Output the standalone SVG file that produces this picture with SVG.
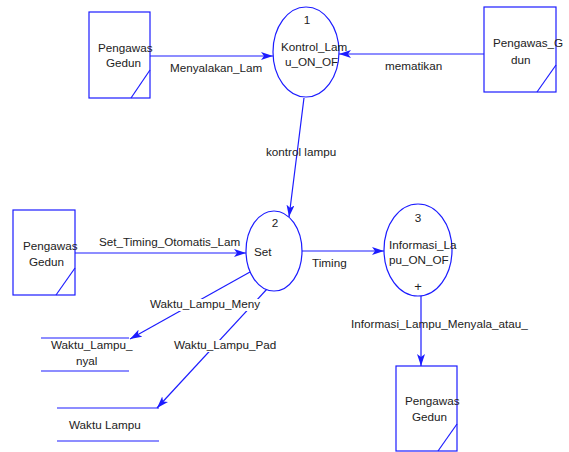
<svg xmlns="http://www.w3.org/2000/svg" width="569" height="452" viewBox="0 0 569 452">
<style>
.s{fill:none;stroke:#1c1cff;stroke-width:1.2}
.b{fill:#fff;stroke:#1c1cff;stroke-width:1.2}
.t{font-family:"Liberation Sans",Arial,sans-serif;font-size:11.7px;fill:#222}
.c{text-anchor:middle}
.w{fill:#fff;stroke:none}
</style>
<defs>
<marker id="ah" viewBox="0 0 12 8" refX="12" refY="4" markerWidth="12" markerHeight="8" markerUnits="userSpaceOnUse" orient="auto">
<path d="M0,0 L12,4 L0,8 L3,4 Z" fill="#1c1cff"/>
</marker>
</defs>
<rect width="569" height="452" fill="#fff"/>
<g id="connectors">
<line class="s" x1="150" y1="56" x2="273" y2="56" marker-end="url(#ah)"/>
<line class="s" x1="484" y1="54" x2="339" y2="54" marker-end="url(#ah)"/>
<line class="s" x1="304" y1="98" x2="289" y2="217" marker-end="url(#ah)"/>
<line class="s" x1="75" y1="253" x2="246" y2="253" marker-end="url(#ah)"/>
<line class="s" x1="302" y1="251" x2="384" y2="251" marker-end="url(#ah)"/>
<line class="s" x1="421" y1="296" x2="421" y2="366" marker-end="url(#ah)"/>
<line class="s" x1="250" y1="272" x2="130" y2="339" marker-end="url(#ah)"/>
<line class="s" x1="267" y1="289" x2="157" y2="408" marker-end="url(#ah)"/>
<rect class="w" x="150" y="299" width="114" height="12"/>
<rect class="w" x="174" y="340" width="106" height="12"/>
<text class="t" x="170" y="72">Menyalakan_Lam</text>
<text class="t" x="385" y="70">mematikan</text>
<text class="t" x="266" y="156">kontrol lampu</text>
<text class="t" x="99" y="246">Set_Timing_Otomatis_Lam</text>
<text class="t" x="312" y="267">Timing</text>
<text class="t" x="150" y="308">Waktu_Lampu_Meny</text>
<text class="t" x="174" y="349">Waktu_Lampu_Pad</text>
<text class="t" x="351" y="328">Informasi_Lampu_Menyala_atau_</text>
</g>
<g id="ext1">
<rect class="b" x="89" y="12" width="61" height="86"/>
<line class="s" x1="131" y1="98" x2="150" y2="70"/>
<text class="t" x="98" y="52">Pengawas</text>
<text class="t" x="106" y="67">Gedun</text>
</g>
<g id="ext2">
<rect class="b" x="484" y="7" width="72" height="85"/>
<line class="s" x1="537" y1="92" x2="556" y2="65"/>
<text class="t" x="493" y="47">Pengawas_G</text>
<text class="t" x="511" y="64">dun</text>
</g>
<g id="ext3">
<rect class="b" x="13" y="210" width="62" height="85"/>
<line class="s" x1="56" y1="295" x2="75" y2="268"/>
<text class="t" x="23" y="250">Pengawas</text>
<text class="t" x="29" y="266">Gedun</text>
</g>
<g id="ext4">
<rect class="b" x="396" y="366" width="61" height="85"/>
<line class="s" x1="438" y1="451" x2="457" y2="424"/>
<text class="t" x="405" y="405">Pengawas</text>
<text class="t" x="412" y="421">Gedun</text>
</g>
<g id="proc1">
<ellipse class="b" cx="306" cy="52" rx="33" ry="45"/>
<text class="t c" x="307" y="24">1</text>
<text class="t" x="281" y="51">Kontrol_Lam</text>
<text class="t" x="285" y="66">u_ON_OF</text>
</g>
<g id="proc2">
<ellipse class="b" cx="274" cy="251" rx="28" ry="40"/>
<text class="t c" x="275" y="227">2</text>
<text class="t" x="254" y="256">Set</text>
</g>
<g id="proc3">
<ellipse class="b" cx="418" cy="250" rx="34" ry="46"/>
<text class="t c" x="418" y="222">3</text>
<text class="t" x="389" y="249">Informasi_La</text>
<text class="t" x="389" y="264">pu_ON_OF</text>
<text class="t c" x="418" y="291" style="font-size:13px">+</text>
</g>
<g id="store1">
<line class="s" x1="41" y1="338" x2="129" y2="338"/>
<line class="s" x1="41" y1="371" x2="129" y2="371"/>
<text class="t" x="51" y="349">Waktu_Lampu_</text>
<text class="t" x="76" y="365">nyal</text>
</g>
<g id="store2">
<line class="s" x1="57" y1="408" x2="159" y2="408"/>
<line class="s" x1="57" y1="441" x2="159" y2="441"/>
<text class="t" x="69" y="429">Waktu Lampu</text>
</g>
</svg>
